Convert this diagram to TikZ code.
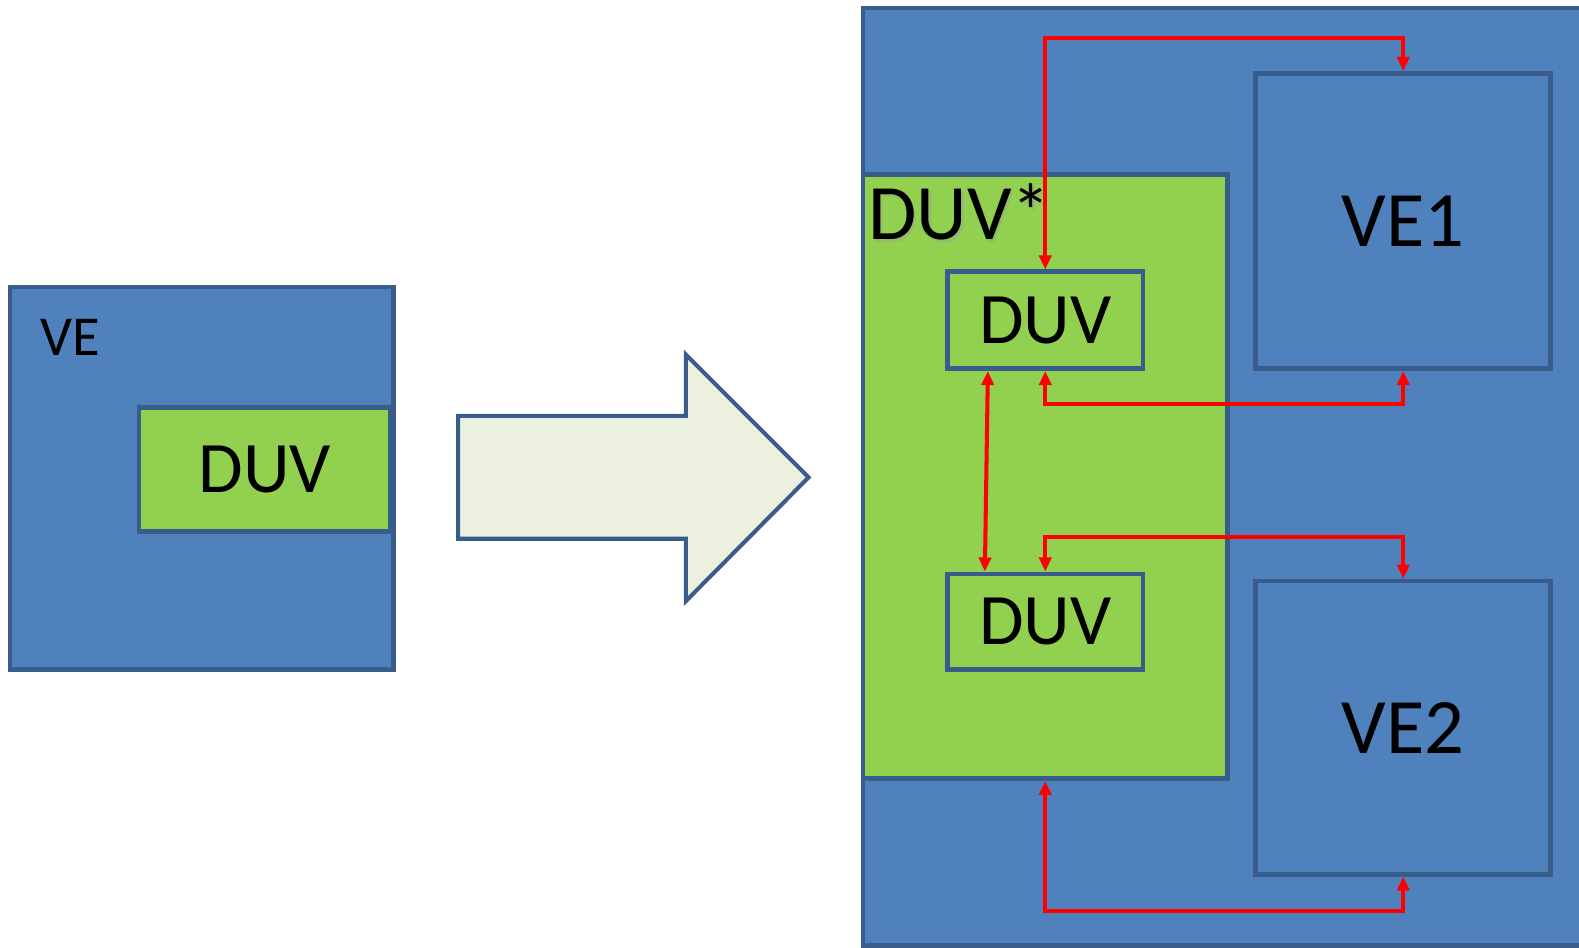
\documentclass[tikz,border=0pt]{standalone}
\usepackage{fontspec}
\setmainfont{Carlito}
\usetikzlibrary{arrows.meta}

\definecolor{veblue}{HTML}{4F81BD}
\definecolor{veedge}{HTML}{385D8A}
\definecolor{duvgreen}{HTML}{92D050}
\definecolor{arrowfill}{HTML}{EBF1DE}

\begin{document}
\begin{tikzpicture}[x=0.5pt, y=-0.5pt,
    box/.style={draw=veedge, line width=2.4pt, rectangle, inner sep=0pt},
    ve/.style={box, fill=veblue},
    duv/.style={box, fill=duvgreen},
    big/.style={font=\fontsize{39}{42}\selectfont},
    mid/.style={font=\fontsize{36}{40}\selectfont},
    conn/.style={draw=red, line width=2pt,
                 {Triangle[length=7pt,width=6pt]}-{Triangle[length=7pt,width=6pt]}}
]
\useasboundingbox (0,0) rectangle (1568,941);

% Links: VE mit DUV
\node[ve, minimum width=190.5pt, minimum height=190pt] (ve) at (200.5,475) {};
\node[font=\fontsize{28}{32}\selectfont] (velbl) at (70,335) {VE};
\node[duv, mid, minimum width=125pt, minimum height=61.5pt] (duv) at (263,466.5) {DUV};

% Blockpfeil
\draw[draw=veedge, line width=2pt, fill=arrowfill, line join=miter]
    (455,413) -- (681,413) -- (681,352) -- (803,474) -- (681,597)
    -- (681,535) -- (455,535) -- cycle;

% Rechts: Umgebung
\node[ve, minimum width=371.5pt, minimum height=465.5pt] (env) at (1228.5,473.5) {};
\node[duv, minimum width=181pt, minimum height=300pt] (duvstar) at (1038,473) {};
\node[anchor=base west, inner sep=0pt, text=black!40, opacity=0.35,
      font=\fontsize{39}{42}\selectfont] at (864.5,240.5) {DUV*};
\node[anchor=base west, inner sep=0pt,
      font=\fontsize{39}{42}\selectfont] (starlbl) at (862,238) {DUV*};

\node[duv, mid, minimum width=97pt, minimum height=48pt] (duva) at (1038,318) {DUV};
\node[duv, mid, minimum width=97pt, minimum height=47.5pt] (duvb) at (1038,617.5) {DUV};
\node[ve, big, minimum width=146.5pt, minimum height=146.5pt] (ve1) at (1393.5,219.5) {VE1};
\node[ve, big, minimum width=146.5pt, minimum height=145.5pt] (ve2) at (1393.5,722.5) {VE2};

% Hoehen der Leitungen
\coordinate (y1) at (0,38);
\coordinate (y2) at (0,401);
\coordinate (y3) at (0,533);
\coordinate (y4) at (0,905);

% Verbindungen
\draw[conn] (duva.north) -- (duva.north |- y1) -| (ve1.north);
\draw[conn] (duva.south) -- (duva.south |- y2) -| (ve1.south);
\draw[conn] ([xshift=-28.5pt]duva.south) -- ([xshift=-30pt]duvb.north);
\draw[conn] (duvb.north) -- (duvb.north |- y3) -| (ve2.north);
\draw[conn] (duvstar.south) -- (duvstar.south |- y4) -| (ve2.south);

\end{tikzpicture}
\end{document}
